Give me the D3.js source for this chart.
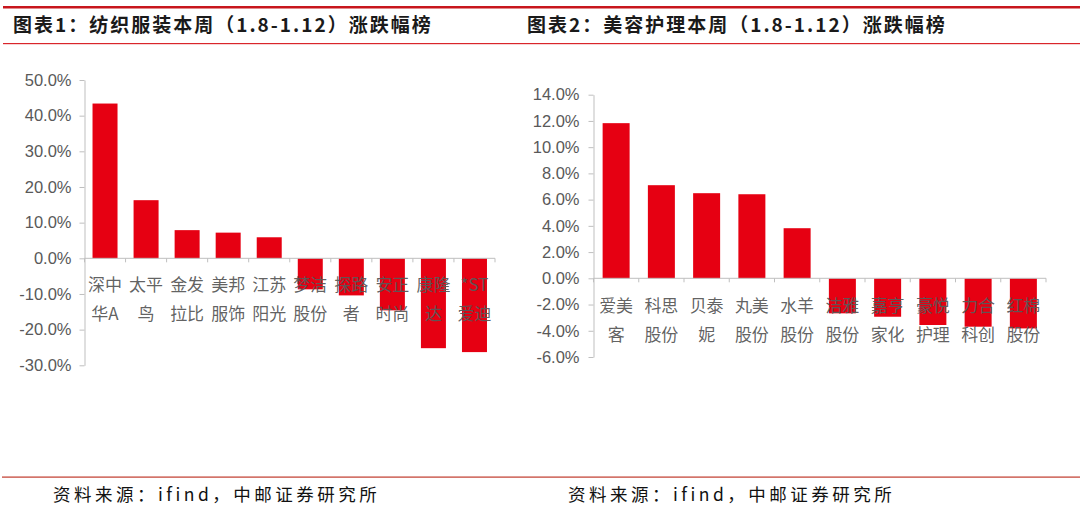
<!DOCTYPE html>
<html>
<head>
<meta charset="utf-8">
<script src="https://cdn.jsdelivr.net/npm/d3@7"></script>
<style>
  body { margin: 0; background: #fff; }
  svg { display: block; }
</style>
</head>
<body>
<svg id="chart" width="1080" height="512"></svg>
<script>
// chart 1: textiles & apparel
const names1 = ["深中\n华A", "太平\n鸟", "金发\n拉比", "美邦\n服饰", "江苏\n阳光", "梦洁\n股份", "探路\n者", "安正\n时尚", "康隆\n达", "*ST\n爱迪"];
const values1 = [43.4, 16.3, 7.9, 7.2, 5.9, -8.7, -10.4, -14.6, -25.2, -26.3];
const ticks1 = [-30, -20, -10, 0, 10, 20, 30, 40, 50];

// chart 2: beauty & personal care
const names2 = ["爱美\n客", "科思\n股份", "贝泰\n妮", "丸美\n股份", "水羊\n股份", "洁雅\n股份", "嘉亨\n家化", "豪悦\n护理", "力合\n科创", "红棉\n股份"];
const values2 = [11.83, 7.1, 6.49, 6.41, 3.82, -2.67, -2.93, -3.56, -3.69, -3.82];
const ticks2 = [-6, -4, -2, 0, 2, 4, 6, 8, 10, 12, 14];

const titles = ["图表1：纺织服装本周（1.8-1.12）涨跌幅榜", "图表2：美容护理本周（1.8-1.12）涨跌幅榜"];
const source = "资料来源：ifind，中邮证券研究所";

const red = "#e60012";
const axisGray = "#bfbfbf";
const textGray = "#595959";

const svg = d3.select("#chart");

// frame lines
svg.append("rect").attr("x", 3).attr("y", 6).attr("width", 1077).attr("height", 2.5).attr("fill", "#c8161d");
svg.append("rect").attr("x", 3).attr("y", 43).attr("width", 1077).attr("height", 1.2).attr("fill", "#d9252b");
svg.append("rect").attr("x", 2).attr("y", 476.5).attr("width", 1078).attr("height", 1.2).attr("fill", "#c0392b");

titles.forEach((t, i) => {
  svg.append("text")
    .attr("x", i === 0 ? 13 : 527)
    .attr("y", 32)
    .attr("font-family", "'Noto Sans CJK SC', sans-serif")
    .attr("font-size", 19)
    .attr("font-weight", 600)
    .attr("letter-spacing", 2)
    .attr("fill", "#1a1a1a")
    .text(t);
  svg.append("text")
    .attr("x", i === 0 ? 53 : 568)
    .attr("y", 501)
    .attr("font-family", "'Noto Sans CJK SC', sans-serif")
    .attr("font-size", 17.5)
    .attr("letter-spacing", 3.5)
    .attr("fill", "#111")
    .text(source);
});

function drawBars(cfg) {
  const g = svg.append("g");
  const x = d3.scaleBand().domain(cfg.names).range([cfg.x0, cfg.x1]).paddingInner(0).paddingOuter(0);
  const y = d3.scaleLinear().domain([cfg.ticks[0], cfg.ticks[cfg.ticks.length - 1]]).range([cfg.yBottom, cfg.yTop]);
  const bw = cfg.barWidth;

  // y axis
  const yAxis = g.append("g")
    .attr("transform", `translate(${cfg.x0},0)`)
    .call(d3.axisLeft(y).tickValues(cfg.ticks).tickSize(5).tickSizeOuter(0).tickFormat(d => d.toFixed(1) + "%"));
  yAxis.select(".domain").attr("stroke", axisGray);
  yAxis.selectAll(".tick line").attr("stroke", axisGray);
  yAxis.selectAll(".tick text")
    .attr("x", -cfg.labelGap)
    .attr("fill", textGray)
    .attr("font-family", "'Liberation Sans', Arial, sans-serif")
    .attr("font-size", 16.5);

  // bars
  g.selectAll("rect.bar")
    .data(cfg.values)
    .join("rect")
    .attr("class", "bar")
    .attr("x", (d, i) => x(cfg.names[i]) + (x.bandwidth() - bw) / 2)
    .attr("y", d => y(Math.max(0, d)))
    .attr("width", bw)
    .attr("height", d => Math.abs(y(d) - y(0)))
    .attr("fill", red);

  // x axis at zero
  const y0 = y(0);
  g.append("line").attr("x1", cfg.x0).attr("x2", cfg.x1).attr("y1", y0).attr("y2", y0)
    .attr("stroke", axisGray).attr("stroke-width", 1);
  const bounds = cfg.names.map(n => x(n)).concat([cfg.x1]);
  g.selectAll("line.xt")
    .data(bounds)
    .join("line")
    .attr("class", "xt")
    .attr("x1", d => d).attr("x2", d => d)
    .attr("y1", y0).attr("y2", y0 + 4)
    .attr("stroke", axisGray);

  // category labels
  cfg.names.forEach(n => {
    const lines = n.split("\n");
    lines.forEach((ln, k) => {
      g.append("text")
        .attr("x", x(n) + x.bandwidth() / 2)
        .attr("y", cfg.labelY + k * 29)
        .attr("text-anchor", "middle")
        .attr("font-family", "'Noto Sans CJK SC', sans-serif")
        .attr("font-size", 17)
        .attr("fill", textGray)
        .attr("fill-opacity", 0.95)
        .text(ln);
    });
  });
}

drawBars({
  names: names1, values: values1, ticks: ticks1,
  x0: 84.5, x1: 495, yTop: 80, yBottom: 365.3, barWidth: 25,
  labelGap: 13, labelY: 291
});

drawBars({
  names: names2, values: values2, ticks: ticks2,
  x0: 593.5, x1: 1046, yTop: 94.7, yBottom: 357, barWidth: 27,
  labelGap: 14, labelY: 312
});
</script>
</body>
</html>
